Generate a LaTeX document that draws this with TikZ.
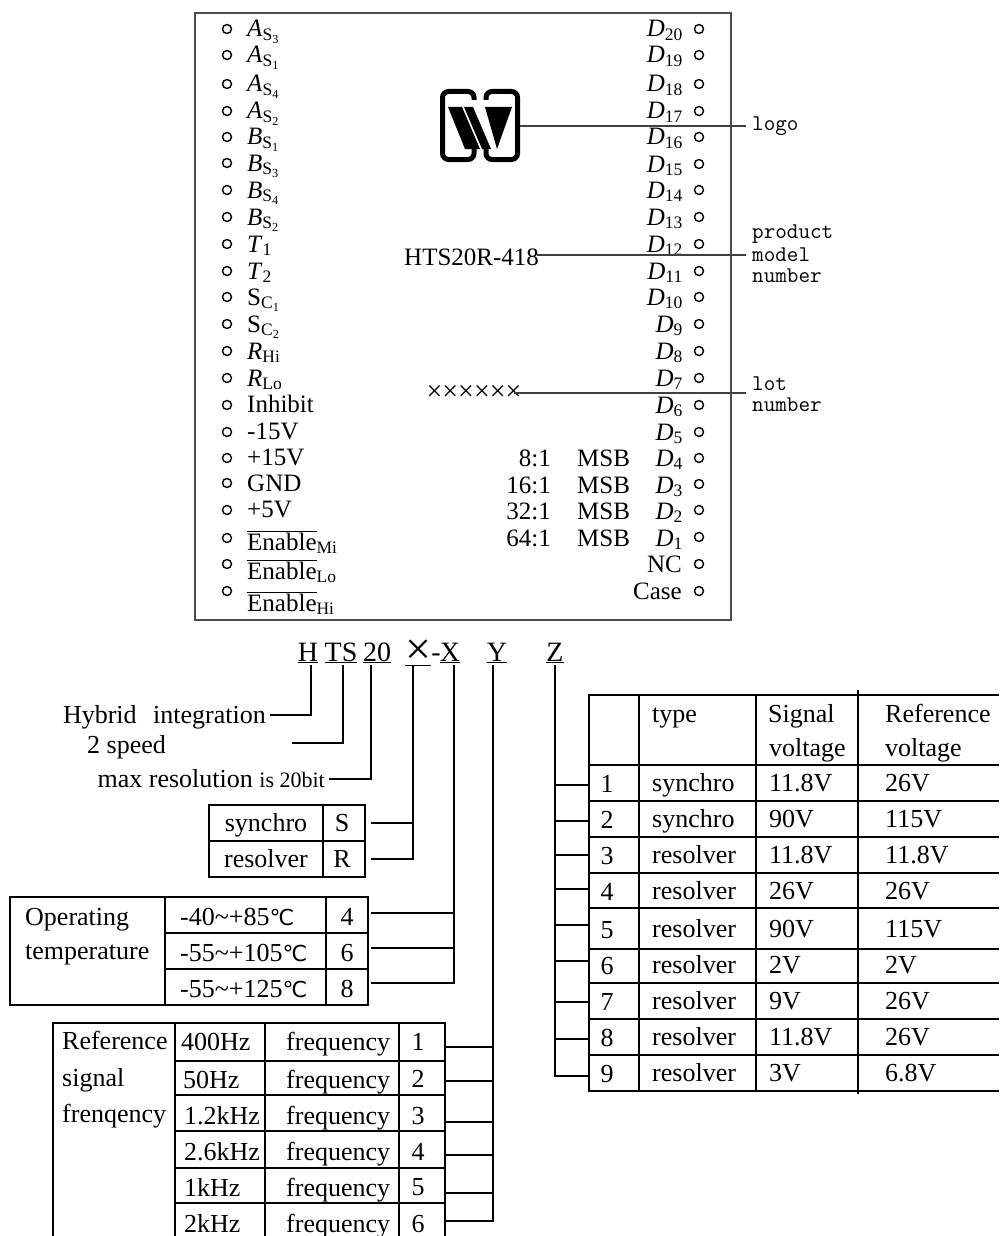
\documentclass[tikz,border=0pt]{standalone}
\usepackage{fontspec}
\setmainfont{Liberation Serif}
\newfontfamily\symfont{DejaVu Sans}
\newcommand{\pinsub}[3]{\textit{#1}\textsubscript{#2\textsubscript{#3}}}
\newcommand{\pinlow}[2]{\textit{#1}\textsubscript{#2}}
\newcommand{\enab}[1]{$\overline{\mbox{Enable}}$\textsubscript{#1}}
\newcommand{\degc}{{\symfont\fontsize{22}{24}\selectfont ℃}}
\begin{document}
\begin{tikzpicture}[x=1pt,y=-1pt,
    cell/.style={inner sep=0pt,text height=17pt,text depth=0pt,font=\fontsize{26}{28}\selectfont},
    lcell/.style={cell,anchor=west},
    wire/.style={line width=1.4pt}]

      \useasboundingbox (0,0) rectangle (999,1236);

      % module case
      \draw[line width=2pt,black!70] (195,13) rectangle (731,620);

      % logo
      \begin{scope}[line width=5pt,rounded corners=6pt]
        \draw (474,100) -- (474,91.5) -- (442.5,91.5) -- (442.5,159.5) -- (474,159.5) -- (474,148);
        \draw (486,100) -- (486,91.5) -- (517.5,91.5) -- (517.5,159.5) -- (486,159.5) -- (486,148);
      \end{scope}
      \fill (448,107) -- (462,107) -- (480,149) -- (465,149) -- cycle;
      \fill (464,107) -- (473,107) -- (491,149) -- (482,149) -- cycle;
      \fill (485,107) -- (512,107) -- (497,149) -- cycle;
      \coordinate (logoR) at (520,126);

      % pins, left then right
      \begin{scope}[every node/.style={circle,draw,line width=1.4pt,inner sep=0pt,minimum size=9pt}]
        \node (l1)  at (227,29)  {};
        \node (l2)  at (227,55)  {};
        \node (l3)  at (227,84)  {};
        \node (l4)  at (227,111) {};
        \node (l5)  at (227,137) {};
        \node (l6)  at (227,163) {};
        \node (l7)  at (227,190) {};
        \node (l8)  at (227,217) {};
        \node (l9)  at (227,244) {};
        \node (l10) at (227,271) {};
        \node (l11) at (227,297) {};
        \node (l12) at (227,324) {};
        \node (l13) at (227,351) {};
        \node (l14) at (227,378) {};
        \node (l15) at (227,405) {};
        \node (l16) at (227,432) {};
        \node (l17) at (227,458) {};
        \node (l18) at (227,483) {};
        \node (l19) at (227,510) {};
        \node (l20) at (227,538) {};
        \node (l21) at (227,564) {};
        \node (l22) at (227,591) {};
        \node (r1)  at (699,29)  {};
        \node (r2)  at (699,55)  {};
        \node (r3)  at (699,84)  {};
        \node (r4)  at (699,111) {};
        \node (r5)  at (699,137) {};
        \node (r6)  at (699,164) {};
        \node (r7)  at (699,190) {};
        \node (r8)  at (699,217) {};
        \node (r9)  at (699,244) {};
        \node (r10) at (699,271) {};
        \node (r11) at (699,297) {};
        \node (r12) at (699,324) {};
        \node (r13) at (699,351) {};
        \node (r14) at (699,378) {};
        \node (r15) at (699,405) {};
        \node (r16) at (699,432) {};
        \node (r17) at (699,458) {};
        \node (r18) at (699,484) {};
        \node (r19) at (699,510) {};
        \node (r20) at (699,537) {};
        \node (r21) at (699,564) {};
        \node (r22) at (699,591) {};
      \end{scope}

      % pin names
      \begin{scope}[every node/.style={anchor=base west,inner sep=0pt,font=\fontsize{25}{28}\selectfont}]
        \node (nl1)  at (247,37)  {\pinsub{A}{S}{3}};
        \node (nl2)  at (247,63)  {\pinsub{A}{S}{1}};
        \node (nl3)  at (247,92)  {\pinsub{A}{S}{4}};
        \node (nl4)  at (247,119) {\pinsub{A}{S}{2}};
        \node (nl5)  at (247,145) {\pinsub{B}{S}{1}};
        \node (nl6)  at (247,171) {\pinsub{B}{S}{3}};
        \node (nl7)  at (247,198) {\pinsub{B}{S}{4}};
        \node (nl8)  at (247,225) {\pinsub{B}{S}{2}};
        \node (nl9)  at (247,252) {\pinlow{T}{1}};
        \node (nl10) at (247,279) {\pinlow{T}{2}};
        \node (nl11) at (247,305) {S\textsubscript{C\textsubscript{1}}};
        \node (nl12) at (247,332) {S\textsubscript{C\textsubscript{2}}};
        \node (nl13) at (247,359) {\pinlow{R}{Hi}};
        \node (nl14) at (247,386) {\pinlow{R}{Lo}};
        \node (nl15) at (247,412) {Inhibit};
        \node (nl16) at (247,439) {-15V};
        \node (nl17) at (247,465) {+15V};
        \node (nl18) at (247,491) {GND};
        \node (nl19) at (247,517) {+5V};
        \node (nl20) at (247,550) {\enab{Mi}};
        \node (nl21) at (247,579) {\enab{Lo}};
        \node (nl22) at (247,611) {\enab{Hi}};
        \node (hts)  at (404,265) {HTS20R-418};
        \node (msb4) at (577,466) {MSB};
        \node (msb3) at (577,493) {MSB};
        \node (msb2) at (577,519) {MSB};
        \node (msb1) at (577,546) {MSB};
      \end{scope}
      \begin{scope}[every node/.style={anchor=base east,inner sep=0pt,font=\fontsize{25}{28}\selectfont}]
        \node (nr1)  at (683,37)  {\pinlow{D}{20}};
        \node (nr2)  at (683,63)  {\pinlow{D}{19}};
        \node (nr3)  at (683,92)  {\pinlow{D}{18}};
        \node (nr4)  at (683,119) {\pinlow{D}{17}};
        \node (nr5)  at (683,145) {\pinlow{D}{16}};
        \node (nr6)  at (683,172) {\pinlow{D}{15}};
        \node (nr7)  at (683,198) {\pinlow{D}{14}};
        \node (nr8)  at (683,225) {\pinlow{D}{13}};
        \node (nr9)  at (683,252) {\pinlow{D}{12}};
        \node (nr10) at (683,279) {\pinlow{D}{11}};
        \node (nr11) at (683,305) {\pinlow{D}{10}};
        \node (nr12) at (683,332) {\pinlow{D}{9}};
        \node (nr13) at (683,359) {\pinlow{D}{8}};
        \node (nr14) at (683,386) {\pinlow{D}{7}};
        \node (nr15) at (683,413) {\pinlow{D}{6}};
        \node (nr16) at (683,440) {\pinlow{D}{5}};
        \node (nr17) at (683,466) {\pinlow{D}{4}};
        \node (nr18) at (683,493) {\pinlow{D}{3}};
        \node (nr19) at (683,519) {\pinlow{D}{2}};
        \node (nr20) at (683,546) {\pinlow{D}{1}};
        \node (nr21) at (682,572) {NC};
        \node (nr22) at (682,599) {Case};
        \node (rat4) at (551,466) {8:1};
        \node (rat3) at (551,493) {16:1};
        \node (rat2) at (551,519) {32:1};
        \node (rat1) at (551,546) {64:1};
      \end{scope}

      % callouts
      \node (lots) at (474,393) {\fontsize{28}{30}\selectfont ××××××};
      \begin{scope}[every node/.style={anchor=west,inner xsep=6pt,inner ysep=0pt,font=\ttfamily\fontsize{22.5}{23}\selectfont}]
        \node (lgo)  at (746,126) {logo};
        \node (pmod) at (746,255) {model};
        \node (pro)  at (746,234) {product};
        \node (pnum) at (746,276) {number};
        \node (lotn) at (746,384) {lot};
        \node (lotm) at (746,405) {number};
      \end{scope}
      \coordinate (lotE) at (746,393);
      \coordinate (htsE) at (537,255);
      \coordinate (lotS) at (514,393);
      \draw[line width=1.6pt,black!75] (logoR) -- (lgo.west);
      \draw[line width=1.6pt,black!75] (htsE) -- (pmod.west);
      \draw[line width=1.6pt,black!75] (lotS) -- (lotE);

      % type code
      \begin{scope}[every node/.style={anchor=base,inner sep=0pt,font=\fontsize{28}{30}\selectfont}]
        \node (cH) at (308,661) {\underline{H}};
        \node (cT) at (341,661) {\underline{TS}};
        \node (c2) at (377,661) {\underline{20}};
        \node (cx) at (418,664) {\underline{\fontsize{46}{46}\selectfont ×}};
        \node (cd) at (436,661) {-};
        \node (cX) at (450,661) {\underline{X}};
        \node (cY) at (497,661) {\underline{Y}};
        \node (cZ) at (555,661) {\underline{Z}};
      \end{scope}
      \coordinate (bH) at (311,665);
      \coordinate (bT) at (343,665);
      \coordinate (b2) at (371,665);
      \coordinate (bx) at (413,665);
      \coordinate (bX) at (454,665);
      \coordinate (bY) at (493,665);
      \coordinate (bZ) at (555,665);

      % texts under the code
      \begin{scope}[every node/.style={cell,inner sep=4pt}]
        \node[anchor=east] (hyb) at (270,715) {Hybrid\hspace{10pt} integration};
        \node[anchor=west,inner sep=0pt] (spd) at (87,745) {2 speed};
        \node[anchor=east] (mxr) at (329,779) {max resolution \fontsize{22}{22}\selectfont is 20bit};
      \end{scope}
      \coordinate (spdE) at (292,743);
      \draw[wire] (bH) |- (hyb.east);
      \draw[wire] (bT) |- (spdE);
      \draw[wire] (b2) |- (mxr.east);

      % table lines
      \begin{scope}[line width=1.4pt]
        \draw (209,805) rectangle (365,877);
        \draw (209,841) -- (365,841);
        \draw (323,805) -- (323,877);

        \draw (10,897) rectangle (368,1005);
        \draw (165,933) -- (368,933);
        \draw (165,969) -- (368,969);
        \draw (165,897) -- (165,1005);
        \draw (326,897) -- (326,1005);

        \draw (175,1023) -- (53,1023) -- (53,1236);
        \draw (175,1023) -- (445,1023) -- (445,1236);
        \draw (175,1061) -- (445,1061);
        \draw (175,1095) -- (445,1095);
        \draw (175,1131) -- (445,1131);
        \draw (175,1168) -- (445,1168);
        \draw (175,1203) -- (445,1203);
        \draw (175,1023) -- (175,1236);
        \draw (265,1023) -- (265,1236);
        \draw (399,1023) -- (399,1236);

        \draw (999,695) -- (589,695) -- (589,1091) -- (999,1091);
        \draw (589,765) -- (999,765);
        \draw (589,801) -- (999,801);
        \draw (589,837) -- (999,837);
        \draw (589,873) -- (999,873);
        \draw (589,908) -- (999,908);
        \draw (589,949) -- (999,949);
        \draw (589,983) -- (999,983);
        \draw (589,1019) -- (999,1019);
        \draw (589,1055) -- (999,1055);
        \draw (639,695) -- (639,1091);
        \draw (756,695) -- (756,1091);
        \draw (858,690) -- (858,1094);
      \end{scope}

      % sensor type table
      \begin{scope}[every node/.style={cell}]
        \node (syn) at (266,823) {synchro};
        \node (rsv) at (266,859) {resolver};
        \node (tS)  at (342,823) {S};
        \node (tR)  at (342,859) {R};
      \end{scope}
      \coordinate (xa) at (371,823);
      \coordinate (xb) at (371,859);
      \draw[wire] (xa) -- (xa -| bx);
      \draw[wire] (bx) |- (xb);

      % temperature table
      \begin{scope}[every node/.style={lcell}]
        \node (opr) at (25,917) {Operating};
        \node (tmp) at (25,951) {temperature};
        \node (ta) at (180,917) {-40\char`\~+85\degc};
        \node (tb) at (180,953) {-55\char`\~+105\degc};
        \node (tc) at (180,989) {-55\char`\~+125\degc};
      \end{scope}
      \begin{scope}[every node/.style={cell}]
        \node (d4) at (347,917) {4};
        \node (d6) at (347,953) {6};
        \node (d8) at (347,989) {8};
      \end{scope}
      \coordinate (wa) at (371,913);
      \coordinate (wb) at (371,948);
      \coordinate (wc) at (371,983);
      \draw[wire] (wa) -- (wa -| bX);
      \draw[wire] (wb) -- (wb -| bX);
      \draw[wire] (bX) |- (wc);

      % reference frequency table
      \begin{scope}[every node/.style={lcell}]
        \node (rf1) at (62,1041) {Reference};
        \node (rf2) at (62,1078) {signal};
        \node (rf3) at (62,1114) {frenqency};
        \node (fa)  at (286,1042) {frequency};
        \node (fb)  at (286,1080) {frequency};
        \node (fc)  at (286,1116) {frequency};
        \node (fd)  at (286,1152) {frequency};
        \node (fe)  at (286,1188) {frequency};
        \node (ff)  at (286,1224) {frequency};
        \node (va) at (181,1042) {400Hz};
        \node (vb) at (183,1080) {50Hz};
        \node (vc) at (184,1116) {1.2kHz};
        \node (vd) at (184,1152) {2.6kHz};
        \node (ve) at (184,1188) {1kHz};
        \node (vf) at (184,1224) {2kHz};
      \end{scope}
      \begin{scope}[every node/.style={cell}]
        \node (ga) at (418,1042) {1};
        \node (gb) at (418,1079) {2};
        \node (gc) at (418,1116) {3};
        \node (gd) at (418,1152) {4};
        \node (ge) at (418,1187) {5};
        \node (gf) at (418,1224) {6};
      \end{scope}
      \coordinate (ya) at (445,1047);
      \coordinate (yb) at (445,1081);
      \coordinate (yc) at (445,1122);
      \coordinate (yd) at (445,1155);
      \coordinate (ye) at (445,1193);
      \coordinate (yf) at (445,1221);
      \draw[wire] (ya) -- (ya -| bY);
      \draw[wire] (yb) -- (yb -| bY);
      \draw[wire] (yc) -- (yc -| bY);
      \draw[wire] (yd) -- (yd -| bY);
      \draw[wire] (ye) -- (ye -| bY);
      \draw[wire] (bY) |- (yf);

      % voltage table
      \begin{scope}[every node/.style={lcell}]
        \node (hty) at (652,714) {type};
        \node (hsi) at (768,714) {Signal};
        \node (hvo) at (769,748) {voltage};
        \node (hre) at (885,714) {Reference};
        \node (hrv) at (885,748) {voltage};

        \node (ty1) at (652,783) {synchro};
        \node (ty2) at (652,819) {synchro};
        \node (ty3) at (652,855) {resolver};
        \node (ty4) at (652,891) {resolver};
        \node (ty5) at (652,929) {resolver};
        \node (ty6) at (652,965) {resolver};
        \node (ty7) at (652,1001) {resolver};
        \node (ty8) at (652,1037) {resolver};
        \node (ty9) at (652,1073) {resolver};

        \node (si1) at (769,783) {11.8V};
        \node (si2) at (769,819) {90V};
        \node (si3) at (769,855) {11.8V};
        \node (si4) at (769,891) {26V};
        \node (si5) at (769,929) {90V};
        \node (si6) at (769,965) {2V};
        \node (si7) at (769,1001) {9V};
        \node (si8) at (769,1037) {11.8V};
        \node (si9) at (769,1073) {3V};

        \node (rv1) at (885,783) {26V};
        \node (rv2) at (885,819) {115V};
        \node (rv3) at (885,855) {11.8V};
        \node (rv4) at (885,891) {26V};
        \node (rv5) at (885,929) {115V};
        \node (rv6) at (885,965) {2V};
        \node (rv7) at (885,1001) {26V};
        \node (rv8) at (885,1037) {26V};
        \node (rv9) at (885,1073) {6.8V};
      \end{scope}
      \begin{scope}[every node/.style={cell}]
        \node (z1) at (607,784) {1};
        \node (z2) at (607,820) {2};
        \node (z3) at (607,856) {3};
        \node (z4) at (607,892) {4};
        \node (z5) at (607,930) {5};
        \node (z6) at (607,966) {6};
        \node (z7) at (607,1002) {7};
        \node (z8) at (607,1038) {8};
        \node (z9) at (607,1074) {9};
      \end{scope}
      \coordinate (za) at (589,785);
      \coordinate (zb) at (589,821);
      \coordinate (zc) at (589,855);
      \coordinate (zd) at (589,889);
      \coordinate (ze) at (589,925);
      \coordinate (zf) at (589,961);
      \coordinate (zg) at (589,1002);
      \coordinate (zh) at (589,1039);
      \coordinate (zi) at (589,1076);
      \draw[wire] (za) -- (za -| bZ);
      \draw[wire] (zb) -- (zb -| bZ);
      \draw[wire] (zc) -- (zc -| bZ);
      \draw[wire] (zd) -- (zd -| bZ);
      \draw[wire] (ze) -- (ze -| bZ);
      \draw[wire] (zf) -- (zf -| bZ);
      \draw[wire] (zg) -- (zg -| bZ);
      \draw[wire] (zh) -- (zh -| bZ);
      \draw[wire] (bZ) |- (zi);

    \end{tikzpicture}
\end{document}
